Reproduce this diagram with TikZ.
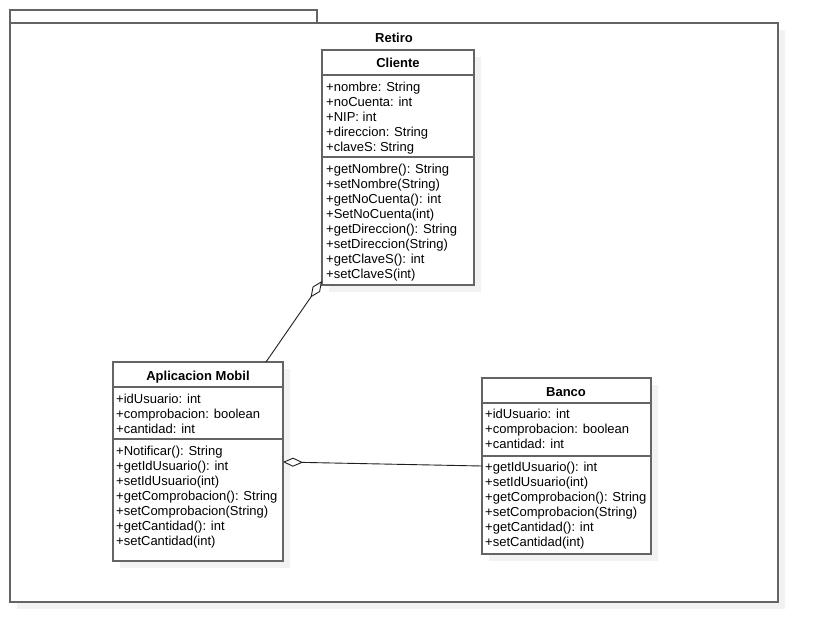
\documentclass[tikz,border=0pt]{standalone}
\usepackage{fontspec}
\setmainfont{Liberation Sans}
\usetikzlibrary{arrows.meta}
\definecolor{linegray}{RGB}{100,100,100}
\definecolor{shadowgray}{RGB}{242,242,242}
\definecolor{connblack}{RGB}{30,30,30}
\begin{document}
\begin{tikzpicture}[x=1pt,y=-1pt,
  boxline/.style={draw=linegray, line width=1.4pt, fill=white},
  shadowbox/.style={fill=shadowgray, draw=none},
  classbox/.style={boxline, anchor=north west, inner sep=0pt, outer sep=0pt},
  txt/.style={anchor=base west, inner sep=0pt, font=\fontsize{13}{15}\selectfont},
  ttl/.style={anchor=base, inner sep=0pt, font=\fontsize{13}{15}\selectfont\bfseries},
  sep/.style={draw=linegray, line width=1.4pt},
  conn/.style={draw=connblack, line width=0.9pt},
  agg/.style={{Diamond[open,fill=white,length=20pt,width=9pt,line width=0.9pt]}-}
]
\useasboundingbox (0,0) rectangle (818,642);
% package frame
\fill[shadowbox] (17,30) rectangle (785,609);
\node[classbox, minimum width=307pt, minimum height=13pt] (tab) at (10,10) {};
\node[classbox, minimum width=768pt, minimum height=579pt] (frame) at (10,23) {};
\node[ttl] (retiro) at (394,42) {Retiro};

% Cliente
\fill[shadowbox] (329,57) rectangle (481,292);
\node[classbox, minimum width=152pt, minimum height=235pt] (cli) at (322,50) {};
\node[ttl] (cliT) at (398,67) {Cliente};
\draw[sep] (322,75) -- (474,75);
\draw[sep] (322,157) -- (474,157);
\node[txt] (ca1) at (326,91) {+nombre: String};
\node[txt] (ca2) at (326,106) {+noCuenta: int};
\node[txt] (ca3) at (326,121) {+NIP: int};
\node[txt] (ca4) at (326,136) {+direccion: String};
\node[txt] (ca5) at (326,151) {+claveS: String};
\node[txt] (cm1) at (326,173) {+getNombre(): String};
\node[txt] (cm2) at (326,188) {+setNombre(String)};
\node[txt] (cm3) at (326,203) {+getNoCuenta(): int};
\node[txt] (cm4) at (326,218) {+SetNoCuenta(int)};
\node[txt] (cm5) at (326,233) {+getDireccion(): String};
\node[txt] (cm6) at (326,248) {+setDireccion(String)};
\node[txt] (cm7) at (326,263) {+getClaveS(): int};
\node[txt] (cm8) at (326,278) {+setClaveS(int)};

% Aplicacion Mobil
\fill[shadowbox] (120,369) rectangle (290,568);
\node[classbox, minimum width=170pt, minimum height=199pt] (app) at (113,362) {};
\node[ttl] (appT) at (198,380) {Aplicacion Mobil};
\draw[sep] (113,387) -- (283,387);
\draw[sep] (113,439) -- (283,439);
\node[txt] (aa1) at (116,403) {+idUsuario: int};
\node[txt] (aa2) at (116,418) {+comprobacion: boolean};
\node[txt] (aa3) at (116,433) {+cantidad: int};
\node[txt] (am1) at (116,455) {+Notificar(): String};
\node[txt] (am2) at (116,470) {+getIdUsuario(): int};
\node[txt] (am3) at (116,485) {+setIdUsuario(int)};
\node[txt] (am4) at (116,500) {+getComprobacion(): String};
\node[txt] (am5) at (116,515) {+setComprobacion(String)};
\node[txt] (am6) at (116,530) {+getCantidad(): int};
\node[txt] (am7) at (116,545) {+setCantidad(int)};

% Banco
\fill[shadowbox] (489,385) rectangle (658,561);
\node[classbox, minimum width=169pt, minimum height=176pt] (ban) at (482,378) {};
\node[ttl] (banT) at (566,396) {Banco};
\draw[sep] (482,403) -- (651,403);
\draw[sep] (482,456) -- (651,456);
\node[txt] (ba1) at (485,418) {+idUsuario: int};
\node[txt] (ba2) at (485,433) {+comprobacion: boolean};
\node[txt] (ba3) at (485,448) {+cantidad: int};
\node[txt] (bm1) at (485,471) {+getIdUsuario(): int};
\node[txt] (bm2) at (485,486) {+setIdUsuario(int)};
\node[txt] (bm3) at (485,501) {+getComprobacion(): String};
\node[txt] (bm4) at (485,516) {+setComprobacion(String)};
\node[txt] (bm5) at (485,531) {+getCantidad(): int};
\node[txt] (bm6) at (485,546) {+setCantidad(int)};

% connectors
\coordinate (cliAgg) at (322,281);
\coordinate (appTop) at (266,362);
\coordinate (appAgg) at (283,462);
\coordinate (banIn) at (482,466);
\draw[conn, agg] (cliAgg) -- (appTop);
\draw[conn, agg] (appAgg) -- (banIn);
\end{tikzpicture}
\end{document}
